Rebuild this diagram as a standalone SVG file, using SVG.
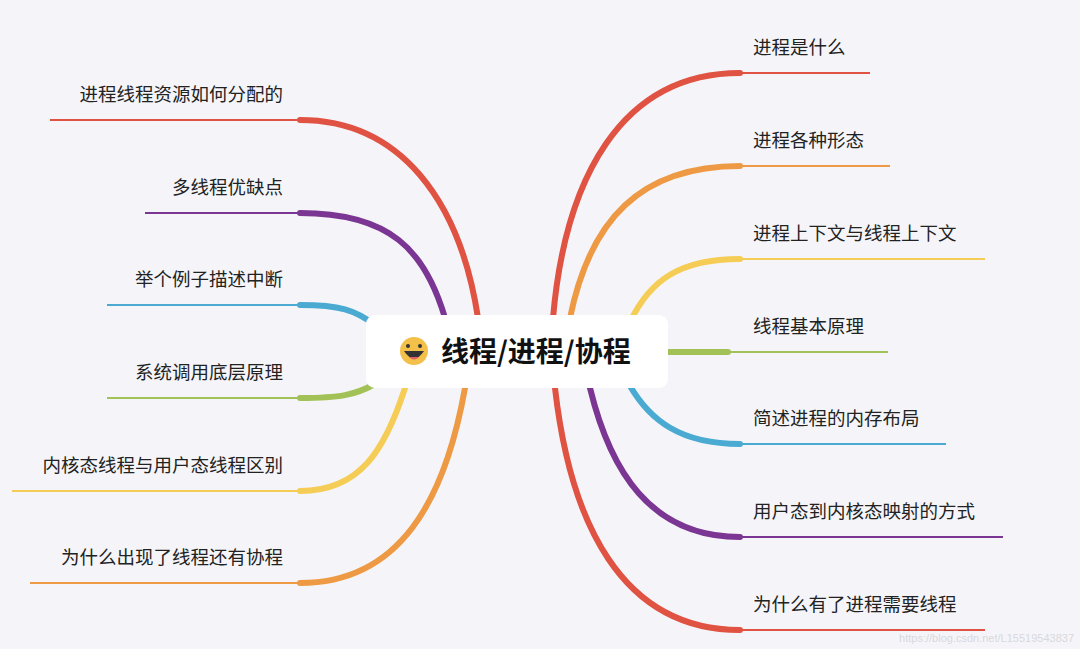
<svg xmlns="http://www.w3.org/2000/svg" width="1080" height="649" viewBox="0 0 1080 649">
<style>
.b{fill:none;stroke-width:6;stroke-linecap:round}
.u{fill:none;stroke-width:2}
.t{font-family:"Noto Sans CJK SC","Noto Sans",sans-serif;font-size:18.5px;fill:#222}
.l{text-anchor:end}
</style>
<rect width="1080" height="649" fill="#f5f5f9"/>
<g id="connectors">
<path class="b" stroke="#e05242" d="M553,318 C565,180 620,73 740,73"/><path class="u" stroke="#e05242" d="M740,73 H870"/>
<path class="b" stroke="#ee9a45" d="M570,318 C590,220 640,166 740,166"/><path class="u" stroke="#ee9a45" d="M740,166 H890"/>
<path class="b" stroke="#f5cd56" d="M630,322 C650,280 680,259 740,259"/><path class="u" stroke="#f5cd56" d="M740,259 H985"/>
<path class="b" stroke="#a2c257" d="M668,352 H728"/><path class="u" stroke="#a2c257" d="M728,352 H888"/>
<path class="b" stroke="#4aaad2" d="M630,386 C650,420 680,444 740,444"/><path class="u" stroke="#4aaad2" d="M740,444 H946"/>
<path class="b" stroke="#7b3592" d="M590,388 C610,470 650,537 740,537"/><path class="u" stroke="#7b3592" d="M740,537 H1003"/>
<path class="b" stroke="#e05242" d="M555,388 C570,520 620,630 740,630"/><path class="u" stroke="#e05242" d="M740,630 H985"/>
<path class="b" stroke="#e05242" d="M478,318 C460,200 400,120 300,120"/><path class="u" stroke="#e05242" d="M300,120 H50"/>
<path class="b" stroke="#7b3592" d="M445,318 C425,250 390,213 300,213"/><path class="u" stroke="#7b3592" d="M300,213 H145"/>
<path class="b" stroke="#4aaad2" d="M375,325 C355,310 340,305 300,305"/><path class="u" stroke="#4aaad2" d="M300,305 H107"/>
<path class="b" stroke="#a2c257" d="M375,384 C355,395 340,398 300,398"/><path class="u" stroke="#a2c257" d="M300,398 H107"/>
<path class="b" stroke="#f5cd56" d="M405,388 C385,450 360,491 300,491"/><path class="u" stroke="#f5cd56" d="M300,491 H12"/>
<path class="b" stroke="#ee9a45" d="M465,388 C445,500 400,583 300,583"/><path class="u" stroke="#ee9a45" d="M300,583 H30"/>
</g>
<g id="center">
<rect x="366" y="315" width="302" height="73" rx="9" fill="#fff"/>
<circle cx="414" cy="351" r="14" fill="#f3c04a"/>
<circle cx="408" cy="346" r="2" fill="#333"/><circle cx="420" cy="346" r="2" fill="#333"/>
<path d="M404,351 Q414,366 424,351 Z" fill="#333"/><path d="M409,357 Q414,362 419,357 Z" fill="#e0606a"/>
<text x="441" y="362" font-family="Noto Sans CJK SC,sans-serif" font-size="28" font-weight="bold" fill="#111">线程/进程/协程</text>
</g>
<g id="r1"><text class="t" x="753" y="54">进程是什么</text></g>
<g id="r2"><text class="t" x="753" y="147">进程各种形态</text></g>
<g id="r3"><text class="t" x="753" y="240">进程上下文与线程上下文</text></g>
<g id="r4"><text class="t" x="753" y="333">线程基本原理</text></g>
<g id="r5"><text class="t" x="753" y="425">简述进程的内存布局</text></g>
<g id="r6"><text class="t" x="753" y="518">用户态到内核态映射的方式</text></g>
<g id="r7"><text class="t" x="753" y="611">为什么有了进程需要线程</text></g>
<g id="l1"><text class="t l" x="283" y="101">进程线程资源如何分配的</text></g>
<g id="l2"><text class="t l" x="283" y="194">多线程优缺点</text></g>
<g id="l3"><text class="t l" x="283" y="286">举个例子描述中断</text></g>
<g id="l4"><text class="t l" x="283" y="379">系统调用底层原理</text></g>
<g id="l5"><text class="t l" x="283" y="472">内核态线程与用户态线程区别</text></g>
<g id="l6"><text class="t l" x="283" y="564">为什么出现了线程还有协程</text></g>
<text x="1074" y="642" text-anchor="end" font-family="Liberation Sans,sans-serif" font-size="11" fill="#d8d8dc">https://blog.csdn.net/L15519543837</text>
</svg>
